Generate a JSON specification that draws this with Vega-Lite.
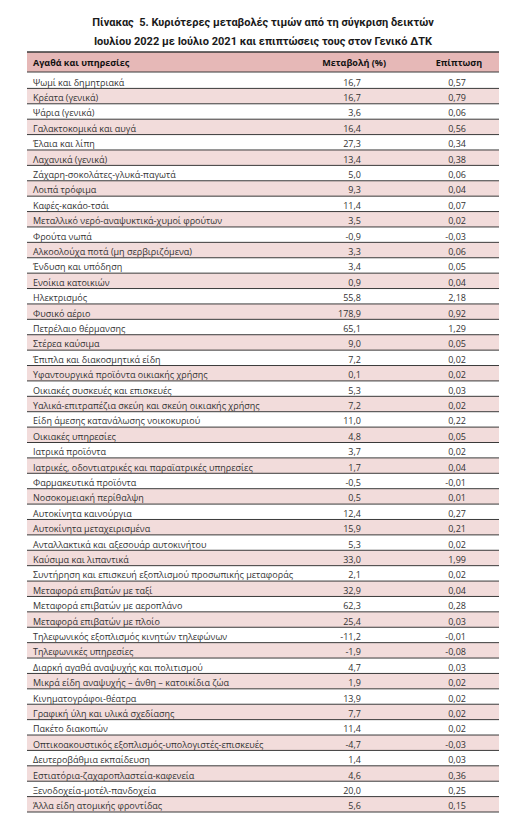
{
  "$schema": "https://vega.github.io/schema/vega-lite/v6.json",
  "autosize": {"type": "pad"},
  "padding": {"left": 26, "top": 17, "right": 24, "bottom": 22},
  "background": "white",
  "title": {
    "text": ["Πίνακας\u00a0 5. Κυριότερες μεταβολές τιμών από τη σύγκριση δεικτών", "Ιουλίου 2022 με Ιούλιο 2021 και επιπτώσεις τους στον Γενικό ΔΤΚ"],
    "anchor": "middle",
    "frame": "group",
    "font": "Roboto",
    "fontSize": 11,
    "fontWeight": "bold",
    "color": "#1a1a1a",
    "lineHeight": 19,
    "offset": 4
  },
  "config": {
    "view": {"stroke": null},
    "locale": {"number": {"decimal": ",", "thousands": ".", "grouping": [3], "currency": ["", " €"], "minus": "-"}},
    "text": {"font": "Open Sans"}
  },
  "spacing": 0,
  "datasets": {
    "rows": [
      {"i": 1, "item": "Ψωμί και δημητριακά", "change": 16.7, "impact": 0.57},
      {"i": 2, "item": "Κρέατα (γενικά)", "change": 16.7, "impact": 0.79},
      {"i": 3, "item": "Ψάρια (γενικά)", "change": 3.6, "impact": 0.06},
      {"i": 4, "item": "Γαλακτοκομικά και αυγά", "change": 16.4, "impact": 0.56},
      {"i": 5, "item": "Έλαια και λίπη", "change": 27.3, "impact": 0.34},
      {"i": 6, "item": "Λαχανικά (γενικά)", "change": 13.4, "impact": 0.38},
      {"i": 7, "item": "Ζάχαρη-σοκολάτες-γλυκά-παγωτά", "change": 5.0, "impact": 0.06},
      {"i": 8, "item": "Λοιπά τρόφιμα", "change": 9.3, "impact": 0.04},
      {"i": 9, "item": "Καφές-κακάο-τσάι", "change": 11.4, "impact": 0.07},
      {"i": 10, "item": "Μεταλλικό νερό-αναψυκτικά-χυμοί φρούτων", "change": 3.5, "impact": 0.02},
      {"i": 11, "item": "Φρούτα νωπά", "change": -0.9, "impact": -0.03},
      {"i": 12, "item": "Αλκοολούχα ποτά (μη σερβιριζόμενα)", "change": 3.3, "impact": 0.06},
      {"i": 13, "item": "Ένδυση και υπόδηση", "change": 3.4, "impact": 0.05},
      {"i": 14, "item": "Ενοίκια κατοικιών", "change": 0.9, "impact": 0.04},
      {"i": 15, "item": "Ηλεκτρισμός", "change": 55.8, "impact": 2.18},
      {"i": 16, "item": "Φυσικό αέριο", "change": 178.9, "impact": 0.92},
      {"i": 17, "item": "Πετρέλαιο θέρμανσης", "change": 65.1, "impact": 1.29},
      {"i": 18, "item": "Στέρεα καύσιμα", "change": 9.0, "impact": 0.05},
      {"i": 19, "item": "Έπιπλα και διακοσμητικά είδη", "change": 7.2, "impact": 0.02},
      {"i": 20, "item": "Υφαντουργικά προϊόντα οικιακής χρήσης", "change": 0.1, "impact": 0.02},
      {"i": 21, "item": "Οικιακές συσκευές και επισκευές", "change": 5.3, "impact": 0.03},
      {"i": 22, "item": "Υαλικά-επιτραπέζια σκεύη και σκεύη οικιακής χρήσης", "change": 7.2, "impact": 0.02},
      {"i": 23, "item": "Είδη άμεσης κατανάλωσης νοικοκυριού", "change": 11.0, "impact": 0.22},
      {"i": 24, "item": "Οικιακές υπηρεσίες", "change": 4.8, "impact": 0.05},
      {"i": 25, "item": "Ιατρικά προϊόντα", "change": 3.7, "impact": 0.02},
      {"i": 26, "item": "Ιατρικές, οδοντιατρικές και παραϊατρικές υπηρεσίες", "change": 1.7, "impact": 0.04},
      {"i": 27, "item": "Φαρμακευτικά προϊόντα", "change": -0.5, "impact": -0.01},
      {"i": 28, "item": "Νοσοκομειακή περίθαλψη", "change": 0.5, "impact": 0.01},
      {"i": 29, "item": "Αυτοκίνητα καινούργια", "change": 12.4, "impact": 0.27},
      {"i": 30, "item": "Αυτοκίνητα μεταχειρισμένα", "change": 15.9, "impact": 0.21},
      {"i": 31, "item": "Ανταλλακτικά και αξεσουάρ αυτοκινήτου", "change": 5.3, "impact": 0.02},
      {"i": 32, "item": "Καύσιμα και λιπαντικά", "change": 33.0, "impact": 1.99},
      {"i": 33, "item": "Συντήρηση και επισκευή εξοπλισμού προσωπικής μεταφοράς", "change": 2.1, "impact": 0.02},
      {"i": 34, "item": "Μεταφορά επιβατών με ταξί", "change": 32.9, "impact": 0.04},
      {"i": 35, "item": "Μεταφορά επιβατών με αεροπλάνο", "change": 62.3, "impact": 0.28},
      {"i": 36, "item": "Μεταφορά επιβατών με πλοίο", "change": 25.4, "impact": 0.03},
      {"i": 37, "item": "Τηλεφωνικός εξοπλισμός κινητών τηλεφώνων", "change": -11.2, "impact": -0.01},
      {"i": 38, "item": "Τηλεφωνικές υπηρεσίες", "change": -1.9, "impact": -0.08},
      {"i": 39, "item": "Διαρκή αγαθά αναψυχής και πολιτισμού", "change": 4.7, "impact": 0.03},
      {"i": 40, "item": "Μικρά είδη αναψυχής – άνθη – κατοικίδια ζώα", "change": 1.9, "impact": 0.02},
      {"i": 41, "item": "Κινηματογράφοι-θέατρα", "change": 13.9, "impact": 0.02},
      {"i": 42, "item": "Γραφική ύλη και υλικά σχεδίασης", "change": 7.7, "impact": 0.02},
      {"i": 43, "item": "Πακέτο διακοπών", "change": 11.4, "impact": 0.02},
      {"i": 44, "item": "Οπτικοακουστικός εξοπλισμός-υπολογιστές-επισκευές", "change": -4.7, "impact": -0.03},
      {"i": 45, "item": "Δευτεροβάθμια εκπαίδευση", "change": 1.4, "impact": 0.03},
      {"i": 46, "item": "Εστιατόρια-ζαχαροπλαστεία-καφενεία", "change": 4.6, "impact": 0.36},
      {"i": 47, "item": "Ξενοδοχεία-μοτέλ-πανδοχεία", "change": 20.0, "impact": 0.25},
      {"i": 48, "item": "Άλλα είδη ατομικής φροντίδας", "change": 5.6, "impact": 0.15}
    ],
    "header": [
      {"col": "Αγαθά και υπηρεσίες", "pos": 0.0127, "align": "left"},
      {"col": "Μεταβολή (%)", "pos": 0.693, "align": "center"},
      {"col": "Επίπτωση", "pos": 0.915, "align": "center"}
    ],
    "band": [{}]
  },
  "vconcat": [
    {
      "width": 472,
      "height": 20,
      "layer": [
        {
          "data": {"name": "band"},
          "mark": {"type": "rect", "fill": "#e6b8b7"},
          "encoding": {
            "x": {"datum": 0, "type": "quantitative", "scale": {"domain": [0, 1], "nice": false, "zero": false}, "axis": null},
            "x2": {"datum": 1},
            "y": {"datum": 0, "type": "quantitative", "scale": {"domain": [0, 1], "nice": false}, "axis": null},
            "y2": {"datum": 1}
          }
        },
        {
          "data": {"name": "band"},
          "mark": {"type": "rule", "stroke": "#3a3a3a", "strokeWidth": 1.5},
          "encoding": {
            "x": {"datum": 0, "type": "quantitative"},
            "x2": {"datum": 1},
            "y": {"datum": 1, "type": "quantitative"}
          }
        },
        {
          "data": {"name": "band"},
          "mark": {"type": "rule", "stroke": "#3a3a3a", "strokeWidth": 1},
          "encoding": {
            "x": {"datum": 0, "type": "quantitative"},
            "x2": {"datum": 1},
            "y": {"datum": 0, "type": "quantitative"}
          }
        },
        {
          "data": {"name": "header"},
          "transform": [{"filter": "datum.align == 'left'"}],
          "mark": {"type": "text", "align": "left", "baseline": "middle", "fontSize": 9, "fontWeight": "bold", "color": "#111", "dy": 1},
          "encoding": {
            "x": {"field": "pos", "type": "quantitative"},
            "y": {"datum": 0.5, "type": "quantitative"},
            "text": {"field": "col"}
          }
        },
        {
          "data": {"name": "header"},
          "transform": [{"filter": "datum.align == 'center'"}],
          "mark": {"type": "text", "align": "center", "baseline": "middle", "fontSize": 9, "fontWeight": "bold", "color": "#111", "dy": 1},
          "encoding": {
            "x": {"field": "pos", "type": "quantitative"},
            "y": {"datum": 0.5, "type": "quantitative"},
            "text": {"field": "col"}
          }
        }
      ]
    },
    {
      "width": 472,
      "height": 739,
      "data": {"name": "rows"},
      "encoding": {
        "y": {"field": "i", "type": "ordinal", "sort": "ascending", "scale": {"paddingInner": 0, "paddingOuter": 0}, "axis": null}
      },
      "layer": [
        {
          "transform": [{"filter": "datum.i % 2 == 0"}],
          "mark": {"type": "rect", "fill": "#f2dcdb"},
          "encoding": {
            "x": {"datum": 0, "type": "quantitative", "scale": {"domain": [0, 1], "nice": false, "zero": false}, "axis": null},
            "x2": {"datum": 1}
          }
        },
        {
          "mark": {"type": "rule", "stroke": "#3a3a3a", "strokeWidth": 1},
          "encoding": {
            "x": {"datum": 0, "type": "quantitative"},
            "x2": {"datum": 1},
            "y": {"field": "i", "type": "ordinal", "bandPosition": 1}
          }
        },
        {
          "mark": {"type": "text", "align": "left", "baseline": "middle", "fontSize": 9, "color": "#333", "dy": 2},
          "encoding": {
            "x": {"datum": 0.0127, "type": "quantitative"},
            "text": {"field": "item"}
          }
        },
        {
          "mark": {"type": "text", "align": "right", "baseline": "middle", "fontSize": 9, "color": "#333", "dy": 2},
          "encoding": {
            "x": {"datum": 0.7076, "type": "quantitative"},
            "text": {"field": "change", "type": "quantitative", "format": ".1f"}
          }
        },
        {
          "mark": {"type": "text", "align": "right", "baseline": "middle", "fontSize": 9, "color": "#333", "dy": 2},
          "encoding": {
            "x": {"datum": 0.930, "type": "quantitative"},
            "text": {"field": "impact", "type": "quantitative", "format": ".2f"}
          }
        }
      ]
    }
  ]
}
